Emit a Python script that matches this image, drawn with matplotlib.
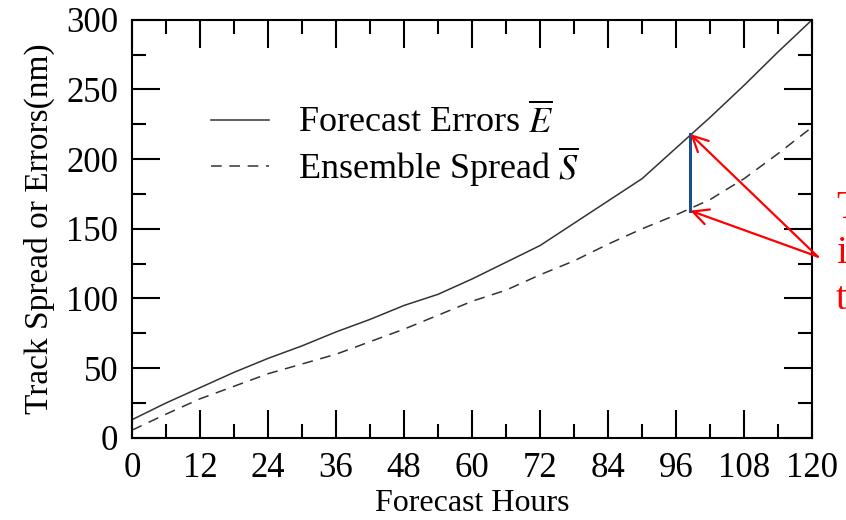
import matplotlib
matplotlib.use("Agg")
import matplotlib.pyplot as plt
from matplotlib.ticker import MultipleLocator

plt.rcParams['font.family'] = ['Liberation Serif', 'DejaVu Serif']
plt.rcParams['mathtext.fontset'] = 'stix'

# values
hours = [0, 6, 12, 18, 24, 30, 36, 42, 48, 54, 60, 66, 72, 78, 84, 90, 96, 102, 108, 114, 120]
errors = [13, 25, 36, 47, 57, 66, 76, 85, 95, 103, 114, 126, 138, 154, 170, 186, 208, 230, 253, 277, 300]
spread = [5.5, 17, 28, 37, 46, 53, 60, 69, 78, 88, 98, 106, 117, 127, 139, 150, 160, 171, 186, 204, 223]
gap_hour = 98.5
gap_top = 218
gap_bottom = 163
note_letters = ["T", "i", "t"]

fig = plt.figure(figsize=(8.46, 5.2), dpi=100)
ax = fig.add_axes([0.156, 0.158, 0.804, 0.804])

ax.plot(hours, errors, color='#333333', lw=1.1, label=r'Forecast Errors $\overline{E}$')
ax.plot(hours, spread, color='#333333', lw=1.1, dashes=(7, 5), label=r'Ensemble Spread $\overline{S}$')

# gap between the two curves
ax.plot([gap_hour, gap_hour], [gap_bottom, gap_top], color='#1a4f8a', lw=2.2)

for y in (gap_top, gap_bottom):
    ax.annotate('', xy=(gap_hour, y), xytext=(121, 130), xycoords='data',
                annotation_clip=False,
                arrowprops=dict(arrowstyle='->', color='red', lw=1.6,
                                mutation_scale=28, shrinkA=0, shrinkB=0))

ax.set_xlim(0, 120)
ax.set_ylim(0, 300)
ax.xaxis.set_major_locator(MultipleLocator(12))
ax.xaxis.set_minor_locator(MultipleLocator(6))
ax.yaxis.set_major_locator(MultipleLocator(50))
ax.yaxis.set_minor_locator(MultipleLocator(25))
ax.tick_params(which='both', direction='in', top=True, right=True, width=1.5, labelsize=25)
ax.tick_params(which='major', length=20, pad=10)
ax.tick_params(which='minor', length=10)
for s in ax.spines.values():
    s.set_linewidth(1.5)

ax.set_xlabel('Forecast Hours', fontsize=23, labelpad=3)
ax.set_ylabel('Track Spread or Errors(nm)', fontsize=24, labelpad=8)

ax.legend(loc='upper left', bbox_to_anchor=(0.09, 0.845), frameon=False, fontsize=26,
          handlelength=1.6, handletextpad=0.8, labelspacing=0.1, borderpad=0)

for i, ch in enumerate(note_letters):
    fig.text(0.988, 0.60 - i * 0.088, ch, color='red', fontsize=28, va='center', ha='left')

fig.savefig('out.png', dpi=100)
